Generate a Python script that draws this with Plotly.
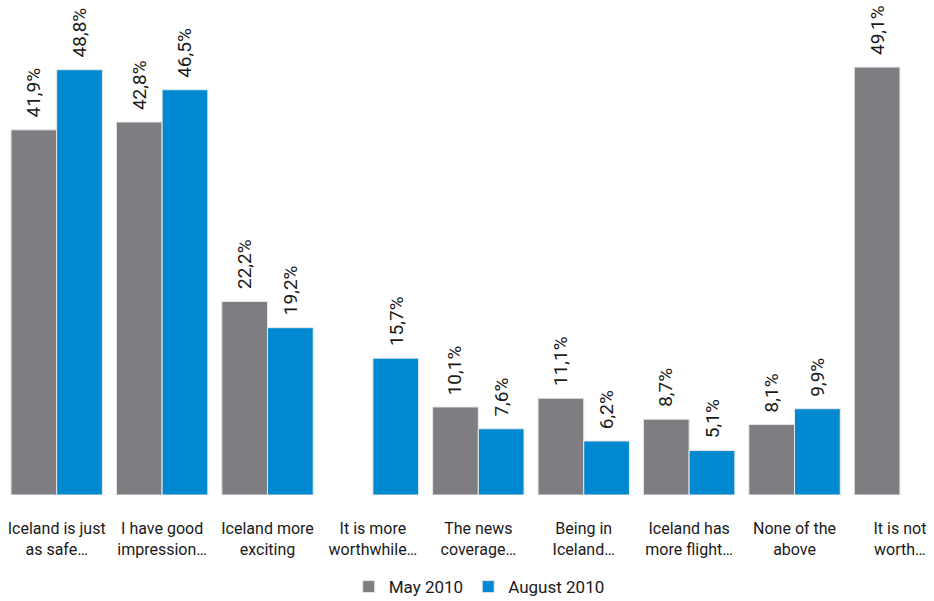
import plotly.graph_objects as go

categories = ["Iceland is just<br>as safe…", "I have good<br>impression…", "Iceland more<br>exciting",
              "It is more<br>worthwhile…", "The news<br>coverage…", "Being in<br>Iceland…",
              "Iceland has<br>more flight…", "None of the<br>above", "It is not<br>worth…"]
may_2010 = [41.9, 42.8, 22.2, None, 10.1, 11.1, 8.7, 8.1, 49.1]
aug_2010 = [48.8, 46.5, 19.2, 15.7, 7.6, 6.2, 5.1, 9.9, None]

GRAY = "#807d82"
BLUE = "#0088d1"
FONT = "Roboto, Liberation Sans, Arial, sans-serif"

fig = go.Figure()
fig.add_trace(go.Bar(name="May 2010", x=list(range(len(categories))), y=may_2010,
                     marker=dict(color=GRAY, line=dict(color="#e8e8e8", width=1))))
fig.add_trace(go.Bar(name="August 2010", x=list(range(len(categories))), y=aug_2010,
                     marker=dict(color=BLUE, line=dict(color="#e8e8e8", width=1))))

def fmt(v):
    return f"{v:.1f}".replace(".", ",") + "%"

annotations = []
for series, shift in ((may_2010, -23), (aug_2010, 23)):
    for i, v in enumerate(series):
        if v is None:
            continue
        annotations.append(dict(x=i, y=v, xref="x", yref="y", text=fmt(v), textangle=-90,
                                showarrow=False, xanchor="center", yanchor="bottom",
                                xshift=shift, yshift=10,
                                font=dict(family=FONT, size=19, color="#1a1a1a")))

fig.update_layout(
    width=934, height=601,
    margin=dict(l=4, r=0, t=0, b=106, autoexpand=False),
    plot_bgcolor="white", paper_bgcolor="white",
    barmode="group", bargap=0.133, bargroupgap=0,
    showlegend=True,
    legend=dict(orientation="h", x=0.511, xanchor="center", y=-0.186, yanchor="middle",
                font=dict(family=FONT, size=17, color="#1a1a1a"), itemwidth=30,
                traceorder="normal"),
    annotations=annotations,
    font=dict(family=FONT, size=16, color="#1a1a1a"),
)
fig.update_xaxes(tickmode="array", tickvals=list(range(len(categories))), ticktext=categories,
                 range=[-0.5, 8.323], showgrid=False, zeroline=False, showline=False,
                 ticks="", ticklabelstandoff=22, automargin=False,
                 tickfont=dict(family=FONT, size=16, color="#1a1a1a"))
fig.update_yaxes(range=[0, 56.8], visible=False, showgrid=False, zeroline=False, automargin=False)

fig.write_html("out.html", config={"displayModeBar": False},
               post_script="document.body.style.margin='0px';")
